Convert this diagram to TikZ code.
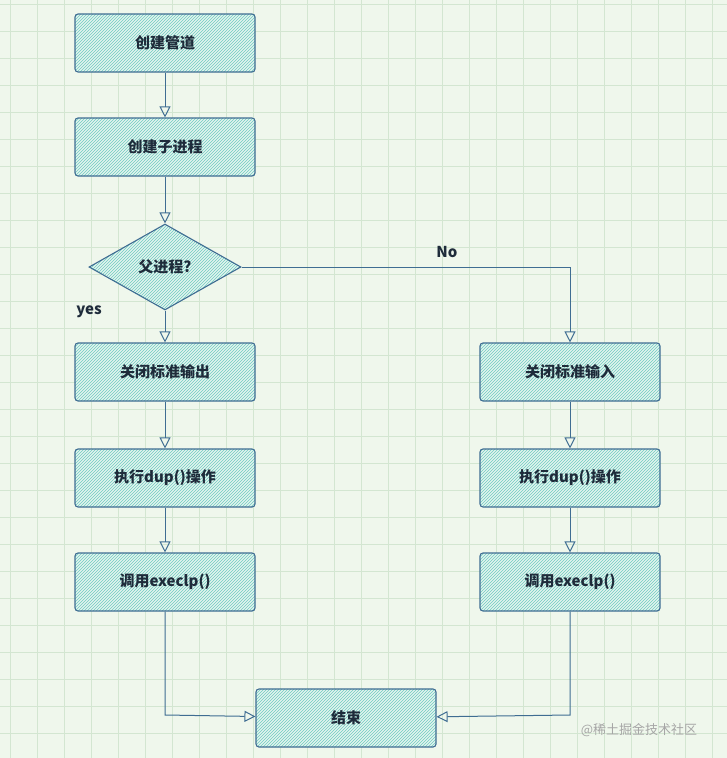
\documentclass[tikz,border=0pt]{standalone}
\usepackage{fontspec}
\setmainfont{Noto Sans CJK SC}
\usetikzlibrary{patterns,arrows.meta,shapes.geometric}
\definecolor{bg}{HTML}{EFF7EC}
\definecolor{gridc}{HTML}{D3E6D1}
\definecolor{edge}{HTML}{3F6D92}
\definecolor{hatch}{HTML}{6FCBC0}
\definecolor{boxfill}{HTML}{E2F4EE}
\definecolor{txt}{HTML}{1E2B3A}
\tikzset{
 x=1pt,y=-1pt,
 boxst/.style={draw=edge,line width=1.1pt,rounded corners=3pt,minimum width=180pt,minimum height=58pt,
   preaction={fill=boxfill},pattern=north east lines,pattern color=hatch,
   font=\bfseries\fontsize{15}{18}\selectfont,text=txt},
 diast/.style={diamond,aspect=1.75,draw=edge,line width=1.1pt,minimum width=152pt,minimum height=86pt,inner sep=0pt,
   preaction={fill=boxfill},pattern=north east lines,pattern color=hatch,
   font=\bfseries\fontsize{15}{18}\selectfont,text=txt},
 arr/.style={draw=edge,line width=1pt,-{Triangle[open,length=11pt,width=11pt]}},
 lbl/.style={font=\bfseries\fontsize{15}{18}\selectfont,text=txt}
}
\begin{document}
\begin{tikzpicture}
\fill[bg] (0,0) rectangle (727,758);
\useasboundingbox (0,0) rectangle (727,758);
\foreach \i in {0,...,27} {\draw[gridc,line width=0.6pt] (\i*27+10,0) -- (\i*27+10,758);}
\foreach \j in {0,...,28} {\draw[gridc,line width=0.6pt] (0,\j*27+4) -- (727,\j*27+4);}
\node[boxst] (b1) at (165,43) {创建管道};
\node[boxst] (b2) at (165,147) {创建子进程};
\node[diast] (d) at (165,267) {父进程?};
\node[boxst] (l1) at (165,372) {关闭标准输出};
\node[boxst] (l2) at (165,478) {执行dup()操作};
\node[boxst] (l3) at (165,582) {调用execlp()};
\node[boxst] (r1) at (570,372) {关闭标准输入};
\node[boxst] (r2) at (570,478) {执行dup()操作};
\node[boxst] (r3) at (570,582) {调用execlp()};
\node[boxst] (e) at (346,718) {结束};
\coordinate (c1) at (570,267);
\coordinate (c2) at (165,715);
\coordinate (c3) at (570,715);
\draw[arr] (b1) -- (b2);
\draw[arr] (b2) -- (d);
\draw[arr] (d) -- (l1);
\draw[arr] (d.east) -- (c1) -- (r1);
\draw[arr] (l1) -- (l2);
\draw[arr] (l2) -- (l3);
\draw[arr] (r1) -- (r2);
\draw[arr] (r2) -- (r3);
\draw[arr] (l3) -- (c2) -- (e);
\draw[arr] (r3) -- (c3) -- (e);
\node[lbl] (yes) at (89,312) {yes};
\node[lbl] (no) at (447,252) {No};
\node[font=\fontsize{13}{15}\selectfont,text=gray!70] (wm) at (639,730) {@稀土掘金技术社区};
\end{tikzpicture}
\end{document}
